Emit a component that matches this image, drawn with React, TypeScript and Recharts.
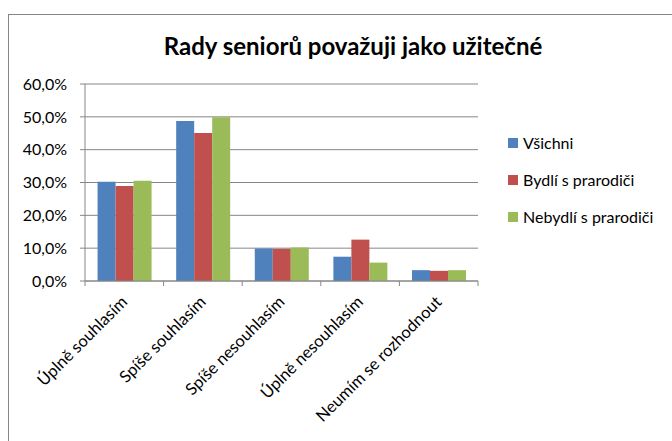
import { BarChart, Bar, XAxis, YAxis, CartesianGrid } from 'recharts'

const categories = ['Úplně souhlasím', 'Spíše souhlasím', 'Spíše nesouhlasím', 'Úplně nesouhlasím', 'Neumím se rozhodnout']
const vsichni = [30.2, 48.7, 9.9, 7.4, 3.3]
const bydli = [28.9, 45.1, 9.8, 12.6, 3.1]
const nebydli = [30.5, 49.9, 10.2, 5.6, 3.3]
const yTicks = [0, 10, 20, 30, 40, 50, 60]

const series = [
  { key: 'vsichni', name: 'Všichni', color: '#4f81bd' },
  { key: 'bydli', name: 'Bydlí s prarodiči', color: '#c0504d' },
  { key: 'nebydli', name: 'Nebydlí s prarodiči', color: '#9bbb59' },
]

const data = categories.map((name, i) => ({
  name,
  vsichni: vsichni[i],
  bydli: bydli[i],
  nebydli: nebydli[i],
}))

const font = 'Lato, "Open Sans", sans-serif'

// rotated label plus Excel-style tick marks on the category boundaries
function CategoryTick(props: any) {
  const { x, y, payload, index, visibleTicksCount } = props
  const half = payload.offset || 39.3
  const ay = y - 8
  const lx = x + 4
  const ly = y + 14
  return (
    <g>
      <line x1={x - half} y1={ay} x2={x - half} y2={ay + 5} stroke="#868686" />
      {index === visibleTicksCount - 1 && (
        <line x1={x + half} y1={ay} x2={x + half} y2={ay + 5} stroke="#868686" />
      )}
      <text
        x={lx}
        y={ly}
        textAnchor="end"
        transform={`rotate(-45 ${lx} ${ly})`}
        fontSize={16.5}
        fill="#000"
        fontFamily={font}
      >
        {payload.value}
      </text>
    </g>
  )
}

export default function App() {
  return (
    <div style={{ position: 'absolute', left: 0, top: 0, width: 672, height: 441, background: '#fff', overflow: 'hidden' }}>
      <div style={{ position: 'absolute', left: 8, top: 14, width: 700, height: 460, border: '1px solid #868686' }} />
      <div
        style={{
          position: 'absolute',
          top: 31,
          left: 0,
          width: 706,
          textAlign: 'center',
          fontFamily: font,
          fontWeight: 'bold',
          fontSize: 24,
          color: '#000',
        }}
      >
        Rady seniorů považuji jako užitečné
      </div>
      <div style={{ position: 'absolute', left: 508, top: 124, fontFamily: font, fontSize: 16, color: '#000' }}>
        {series.map((s) => (
          <div key={s.key} style={{ display: 'flex', alignItems: 'center', height: 37 }}>
            <span style={{ display: 'inline-block', width: 10, height: 10, background: s.color, marginRight: 5 }} />
            {s.name}
          </div>
        ))}
      </div>
      <BarChart
        width={672}
        height={441}
        data={data}
        margin={{ top: 84, right: 194, left: 0, bottom: 0 }}
        barCategoryGap="16%"
        barGap={0}
        style={{ fontFamily: font, position: 'absolute', left: 0, top: 0 }}
      >
        <CartesianGrid vertical={false} stroke="#868686" strokeWidth={1} />
        <XAxis
          dataKey="name"
          interval={0}
          height={160}
          tick={<CategoryTick />}
          tickLine={false}
          axisLine={{ stroke: '#868686' }}
        />
        <YAxis
          domain={[0, 60]}
          ticks={yTicks}
          width={85}
          tickFormatter={(v: number) => `${v.toFixed(1).replace('.', ',')}%`}
          tick={{ fontSize: 16, fill: '#000', fontFamily: font }}
          tickLine={{ stroke: '#868686' }}
          tickSize={5}
          tickMargin={13}
          axisLine={{ stroke: '#868686' }}
          interval={0}
        />
        {series.map((s) => (
          <Bar key={s.key} dataKey={s.key} name={s.name} fill={s.color} isAnimationActive={false} />
        ))}
      </BarChart>
    </div>
  )
}
